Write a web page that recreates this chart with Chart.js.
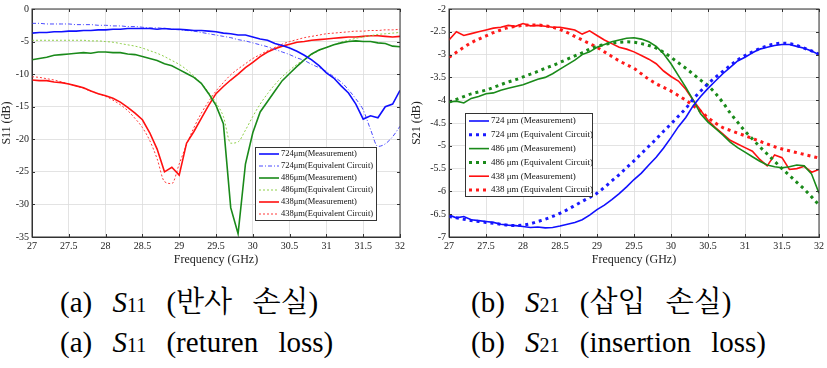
<!DOCTYPE html>
<html>
<head>
<meta charset="utf-8">
<script src="https://cdn.jsdelivr.net/npm/chart.js@4"></script>
<style>
  body { margin: 0; width: 827px; height: 368px; background: #fff; position: relative; overflow: hidden; }
  .box { position: absolute; top: 0; height: 272px; }
  .cap { position: absolute; font-family: "Liberation Serif", "Noto Serif CJK KR", serif;
         font-size: 29px; color: #000; white-space: nowrap; word-spacing: 13px; }
  .cap i { font-style: italic; }
  .cap sub { font-size: 20px; vertical-align: 0; line-height: 0; }
</style>
</head>
<body>
<div class="box" style="left:0;width:410px"><canvas id="s11"></canvas></div>
<div class="box" style="left:410px;width:417px"><canvas id="s21"></canvas></div>
<div class="cap" style="left:60px;top:279px">(a) <i>S</i><sub>11</sub> (반사 손실)</div>
<div class="cap" style="left:60px;top:326px">(a) <i>S</i><sub>11</sub> (returen loss)</div>
<div class="cap" style="left:471px;top:279px">(b) <i>S</i><sub>21</sub> (삽입 손실)</div>
<div class="cap" style="left:471px;top:326px">(b) <i>S</i><sub>21</sub> (insertion loss)</div>
<script>
// frequency points, 27 .. 32 GHz in 0.1 steps
const freq = [27.0,27.1,27.2,27.3,27.4,27.5,27.6,27.7,27.8,27.9,28.0,28.1,28.2,28.3,28.4,28.5,28.6,28.7,28.8,28.9,
  29.0,29.1,29.2,29.3,29.4,29.5,29.6,29.7,29.8,29.9,30.0,30.1,30.2,30.3,30.4,30.5,30.6,30.7,30.8,30.9,
  31.0,31.1,31.2,31.3,31.4,31.5,31.6,31.7,31.8,31.9,32.0];

// S11 (dB)
const s11_724_meas = [-3.7,-3.6,-3.6,-3.5,-3.5,-3.4,-3.4,-3.3,-3.3,-3.2,-3.2,-3.1,-3.1,-3.0,-3.0,-3.0,-3.0,-3.1,-3.0,-3.1,
  -3.1,-3.2,-3.3,-3.3,-3.4,-3.5,-3.7,-3.8,-4.0,-4.0,-4.3,-4.6,-4.8,-5.3,-5.6,-6.0,-6.5,-7.1,-7.8,-8.7,
  -9.8,-10.6,-11.8,-12.9,-14.6,-16.9,-16.4,-16.7,-15.0,-14.6,-12.5];
const s11_724_eq = [-2.2,-2.2,-2.3,-2.3,-2.3,-2.3,-2.4,-2.4,-2.4,-2.5,-2.5,-2.6,-2.6,-2.7,-2.7,-2.8,-2.9,-2.9,-3.0,-3.1,
  -3.2,-3.3,-3.4,-3.6,-3.8,-4.0,-4.2,-4.4,-4.7,-4.9,-5.2,-5.5,-5.8,-6.2,-6.6,-7.0,-7.5,-7.9,-8.5,-9.0,
  -9.6,-10.4,-11.2,-12.4,-13.8,-15.5,-18.5,-21.1,-20.7,-19.6,-18.0];
const s11_486_meas = [-7.8,-7.6,-7.4,-7.1,-7.0,-6.9,-6.8,-6.7,-6.8,-6.6,-6.6,-6.7,-6.7,-6.9,-7.0,-7.3,-7.6,-7.9,-8.4,-8.7,
  -9.3,-9.9,-10.5,-11.4,-13.0,-14.8,-17.6,-30.5,-34.5,-23.8,-19.0,-15.8,-14.2,-12.6,-11.0,-9.9,-8.8,-7.8,-6.9,-6.3,
  -5.9,-5.5,-5.2,-5.0,-4.9,-5.0,-5.0,-5.2,-5.3,-5.7,-5.8];
const s11_486_eq = [-4.8,-4.8,-4.8,-4.8,-4.8,-4.8,-4.8,-4.8,-4.9,-4.9,-5.0,-5.1,-5.3,-5.5,-5.7,-6.0,-6.4,-6.8,-7.3,-7.9,
  -8.5,-9.3,-10.3,-11.4,-12.8,-14.4,-16.5,-20.6,-20.4,-18.6,-16.5,-14.6,-13.0,-11.6,-10.4,-9.4,-8.5,-7.7,-7.0,-6.4,
  -5.9,-5.5,-5.1,-4.8,-4.5,-4.3,-4.1,-3.9,-3.8,-3.7,-3.6];
const s11_438_meas = [-10.9,-11.0,-11.0,-11.2,-11.3,-11.5,-11.8,-12.1,-12.6,-13.0,-13.3,-13.7,-14.3,-15.1,-16.0,-17.0,-19.0,-21.5,-25.0,-24.3,
  -25.5,-20.6,-18.8,-16.8,-14.8,-13.0,-11.9,-10.9,-10.0,-9.0,-8.2,-7.3,-6.6,-6.1,-5.7,-5.4,-5.1,-5.0,-4.8,-4.7,
  -4.6,-4.5,-4.4,-4.3,-4.3,-4.2,-4.1,-4.1,-4.2,-4.3,-4.2];
const s11_438_eq = [-10.4,-10.5,-10.7,-10.9,-11.2,-11.5,-11.8,-12.2,-12.6,-13.0,-13.4,-14.0,-14.7,-15.6,-16.8,-18.2,-20.2,-23.0,-26.5,-26.8,
  -23.8,-20.8,-18.2,-16.0,-14.2,-12.6,-11.3,-10.1,-9.2,-8.4,-7.6,-7.0,-6.4,-5.9,-5.4,-5.0,-4.7,-4.4,-4.2,-4.0,
  -3.8,-3.7,-3.6,-3.5,-3.4,-3.4,-3.3,-3.3,-3.2,-3.2,-3.1];

// S21 (dB)
const s21_724_meas = [-6.52,-6.58,-6.55,-6.62,-6.64,-6.66,-6.68,-6.72,-6.74,-6.75,-6.77,-6.79,-6.78,-6.80,-6.79,-6.76,-6.72,-6.68,-6.62,-6.52,
  -6.40,-6.30,-6.18,-6.05,-5.90,-5.74,-5.60,-5.42,-5.25,-5.05,-4.82,-4.58,-4.38,-4.12,-3.92,-3.74,-3.58,-3.42,-3.28,-3.14,
  -3.06,-2.96,-2.88,-2.84,-2.80,-2.78,-2.78,-2.82,-2.86,-2.92,-3.00];
const s21_724_eq = [-6.55,-6.58,-6.61,-6.64,-6.66,-6.68,-6.70,-6.72,-6.74,-6.75,-6.74,-6.71,-6.66,-6.61,-6.55,-6.48,-6.40,-6.31,-6.22,-6.13,
  -6.04,-5.91,-5.77,-5.63,-5.48,-5.33,-5.17,-5.01,-4.85,-4.68,-4.52,-4.35,-4.18,-3.98,-3.80,-3.64,-3.50,-3.37,-3.24,-3.12,
  -3.02,-2.94,-2.87,-2.81,-2.77,-2.75,-2.76,-2.80,-2.86,-2.92,-2.99];
const s21_486_meas = [-4.04,-4.02,-4.06,-3.96,-3.92,-3.86,-3.84,-3.78,-3.74,-3.70,-3.66,-3.60,-3.54,-3.50,-3.42,-3.32,-3.22,-3.12,-3.00,-2.94,
  -2.84,-2.78,-2.72,-2.68,-2.64,-2.63,-2.66,-2.72,-2.82,-2.98,-3.20,-3.46,-3.72,-4.00,-4.30,-4.48,-4.62,-4.76,-4.92,-5.04,
  -5.14,-5.24,-5.34,-5.42,-5.46,-5.48,-5.46,-5.42,-5.44,-5.62,-6.04];
const s21_486_eq = [-4.04,-3.98,-3.92,-3.86,-3.82,-3.78,-3.72,-3.66,-3.60,-3.55,-3.49,-3.43,-3.37,-3.30,-3.24,-3.17,-3.10,-3.03,-2.96,-2.88,
  -2.82,-2.78,-2.75,-2.73,-2.72,-2.73,-2.76,-2.80,-2.86,-2.95,-3.06,-3.18,-3.30,-3.43,-3.56,-3.68,-3.85,-4.05,-4.28,-4.48,
  -4.68,-4.85,-5.02,-5.18,-5.34,-5.50,-5.65,-5.80,-5.95,-6.12,-6.30];
const s21_438_meas = [-2.68,-2.50,-2.58,-2.54,-2.50,-2.46,-2.42,-2.40,-2.36,-2.38,-2.32,-2.37,-2.36,-2.38,-2.40,-2.40,-2.43,-2.46,-2.55,-2.48,
  -2.58,-2.68,-2.76,-2.84,-2.88,-2.94,-3.02,-3.10,-3.20,-3.36,-3.48,-3.58,-3.76,-4.00,-4.22,-4.44,-4.60,-4.74,-4.88,-4.96,
  -5.04,-5.12,-5.30,-5.44,-5.20,-5.26,-5.52,-5.50,-5.45,-5.58,-5.52];
const s21_438_eq = [-3.06,-2.95,-2.84,-2.74,-2.66,-2.59,-2.52,-2.46,-2.41,-2.38,-2.36,-2.35,-2.35,-2.37,-2.40,-2.45,-2.52,-2.60,-2.68,-2.76,
  -2.84,-2.94,-3.04,-3.14,-3.22,-3.30,-3.42,-3.54,-3.64,-3.72,-3.80,-3.90,-4.00,-4.12,-4.24,-4.38,-4.50,-4.60,-4.66,-4.72,
  -4.78,-4.84,-4.90,-4.96,-5.02,-5.07,-5.11,-5.15,-5.19,-5.23,-5.27];

const freqTicks = [27, 27.5, 28, 28.5, 29, 29.5, 30, 30.5, 31, 31.5, 32];
const s11Labels = ['724\u03bcm(Measurement)', '724\u03bcm(Equivalent Circuit)', '486\u03bcm(Measurement)',
  '486\u03bcm(Equivalent Circuit)', '438\u03bcm(Measurement)', '438\u03bcm(Equivalent Circuit)'];
const s21Labels = ['724 \u03bcm (Measurement)', '724 \u03bcm (Equivalent Circuit)', '486 \u03bcm (Measurement)',
  '486 \u03bcm (Equivalent Circuit)', '438 \u03bcm (Measurement)', '438 \u03bcm (Equivalent Circuit)'];

const FONT = '"Liberation Serif", "DejaVu Serif", serif';
Chart.defaults.font.family = FONT;
Chart.defaults.color = '#222';

const pts = (ys) => ys.map((y, i) => ({ x: freq[i], y: y }));

function meas(label, ys, color) {
  return { label, data: pts(ys), borderColor: color, borderWidth: 1.6, pointRadius: 0, tension: 0, fill: false };
}
function eq(label, ys, color, width, dash) {
  return { label, data: pts(ys), borderColor: color, borderWidth: width, borderDash: dash,
    pointRadius: 0, cubicInterpolationMode: 'monotone', fill: false };
}

// matlab style legend box, placed relative to the plot area
function boxLegend(opt) {
  return {
    id: 'boxLegend',
    afterDraw(chart) {
      const c = chart.ctx, a = chart.chartArea;
      const x = a.left + opt.dx, y = a.top + opt.dy;
      c.save();
      c.fillStyle = '#fff';
      c.fillRect(x, y, opt.w, opt.h);
      c.strokeStyle = '#333';
      c.lineWidth = 1;
      c.setLineDash([]);
      c.strokeRect(x + 0.5, y + 0.5, opt.w, opt.h);
      c.font = opt.font + 'px ' + FONT;
      c.textBaseline = 'middle';
      chart.data.datasets.forEach((ds, i) => {
        const yy = y + opt.first + i * opt.step;
        c.strokeStyle = ds.borderColor;
        c.lineWidth = ds.borderWidth;
        c.setLineDash(ds.borderDash || []);
        c.beginPath();
        c.moveTo(x + 4, yy);
        c.lineTo(x + 4 + opt.sample, yy);
        c.stroke();
        c.fillStyle = '#111';
        c.fillText(ds.label, x + 6 + opt.sample, yy);
      });
      c.restore();
    }
  };
}

// box round the plot area with small inward ticks
const frame = {
  id: 'frame',
  afterDatasetsDraw(chart) {
    const c = chart.ctx, a = chart.chartArea;
    const sx = chart.scales.x, sy = chart.scales.y;
    c.save();
    c.strokeStyle = '#333';
    c.lineWidth = 1;
    c.setLineDash([]);
    c.strokeRect(a.left, a.top, a.right - a.left, a.bottom - a.top);
    c.beginPath();
    sx.ticks.forEach(t => {
      const px = Math.round(sx.getPixelForValue(t.value)) + 0.5;
      c.moveTo(px, a.bottom); c.lineTo(px, a.bottom - 3);
      c.moveTo(px, a.top); c.lineTo(px, a.top + 3);
    });
    sy.ticks.forEach(t => {
      const py = Math.round(sy.getPixelForValue(t.value)) + 0.5;
      c.moveTo(a.left, py); c.lineTo(a.left + 3, py);
      c.moveTo(a.right, py); c.lineTo(a.right - 3, py);
    });
    c.stroke();
    c.restore();
  }
};

function makeChart(id, datasets, ymin, ymax, ystep, ytitle, yw, pad, legend) {
  new Chart(document.getElementById(id), {
    type: 'line',
    data: { datasets },
    options: {
      responsive: true,
      maintainAspectRatio: false,
      animation: false,
      layout: { padding: pad },
      plugins: { legend: { display: false }, tooltip: { enabled: false } },
      scales: {
        x: {
          type: 'linear', min: 27, max: 32,
          afterBuildTicks: (ax) => { ax.ticks = freqTicks.map(v => ({ value: v })); },
          ticks: { font: { size: 10 }, padding: 3, maxRotation: 0, callback: (v) => String(v) },
          grid: { color: '#dcdcdc', tickLength: 0, lineWidth: 0.8 },
          border: { color: '#333' },
          title: { display: true, text: 'Frequency (GHz)', font: { size: 12 }, padding: { top: 0, bottom: 0 } },
          afterFit: (ax) => { ax.height = 30; }
        },
        y: {
          min: ymin, max: ymax,
          ticks: { stepSize: ystep, font: { size: 10 }, padding: 3, callback: (v) => String(v) },
          grid: { color: '#dcdcdc', tickLength: 0, lineWidth: 0.8 },
          border: { color: '#333' },
          title: { display: true, text: ytitle, font: { size: 12 }, padding: { top: 0, bottom: 0 } },
          afterFit: (ax) => { ax.width = yw; }
        }
      }
    },
    plugins: [frame, boxLegend(legend)]
  });
}

makeChart('s11', [
  meas(s11Labels[0], s11_724_meas, '#1010ff'),
  eq(s11Labels[1], s11_724_eq, '#4a4aff', 1, [4, 2, 1, 2]),
  meas(s11Labels[2], s11_486_meas, '#1a8a1a'),
  eq(s11Labels[3], s11_486_eq, '#8fcf4a', 1, [2, 2]),
  meas(s11Labels[4], s11_438_meas, '#ff1010'),
  eq(s11Labels[5], s11_438_eq, '#ff3a3a', 1, [2, 2])
], -35, 0, 5, 'S11 (dB)', 32, { top: 9, right: 10, left: 0, bottom: 5 },
  { dx: 223, dy: 138, w: 121, h: 73, first: 7, step: 12, sample: 20, font: 8.5 });

makeChart('s21', [
  meas(s21Labels[0], s21_724_meas, '#1010ff'),
  eq(s21Labels[1], s21_724_eq, '#1a1aff', 3, [3, 4]),
  meas(s21Labels[2], s21_486_meas, '#1a8a1a'),
  eq(s21Labels[3], s21_486_eq, '#1a8a1a', 3, [3, 4]),
  meas(s21Labels[4], s21_438_meas, '#ff1010'),
  eq(s21Labels[5], s21_438_eq, '#ff1a1a', 3, [3, 4])
], -7, -2, 0.5, 'S21 (dB)', 39, { top: 6, right: 7, left: 0, bottom: 5 },
  { dx: 16, dy: 104, w: 127, h: 83, first: 8, step: 13.8, sample: 20, font: 9 });
</script>
</body>
</html>
